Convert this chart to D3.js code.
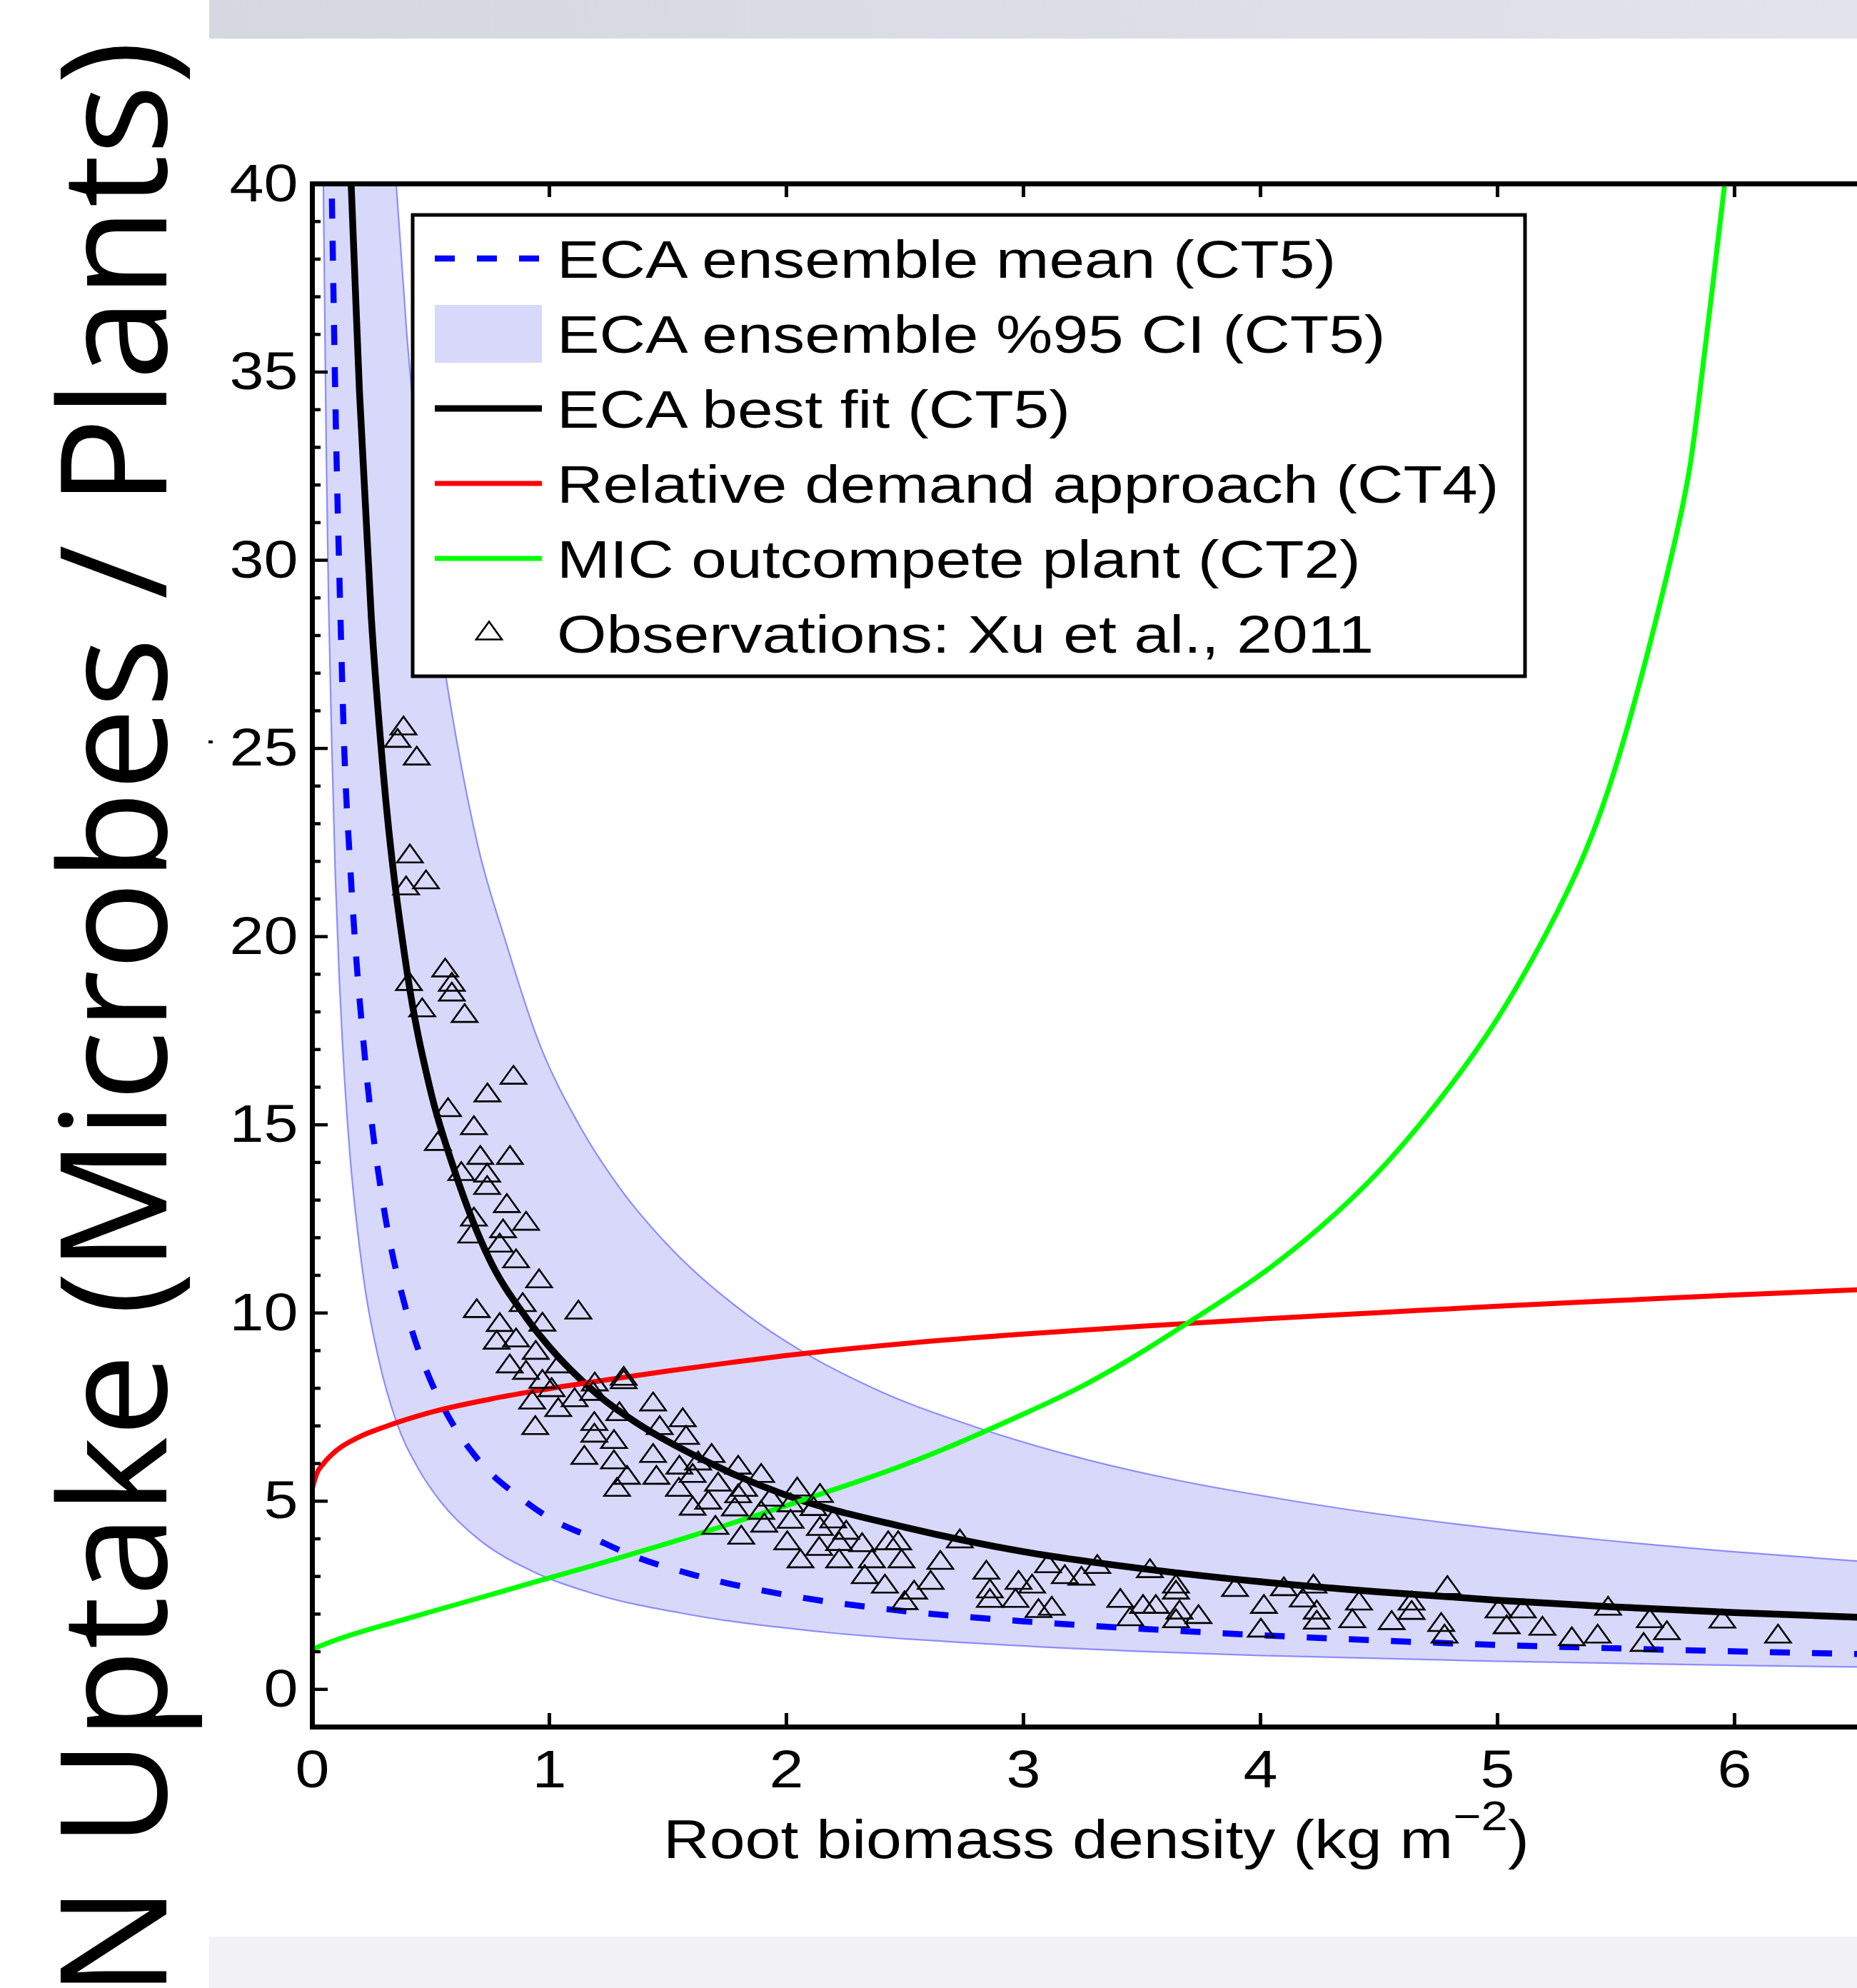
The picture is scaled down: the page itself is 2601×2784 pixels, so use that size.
<!DOCTYPE html>
<html>
<head>
<meta charset="utf-8">
<script src="https://cdn.jsdelivr.net/npm/d3@7"></script>
<style>
body { margin: 0; background: #fff; }
svg { display: block; }
</style>
</head>
<body>
<script>
// values
const xTicks = [0, 1, 2, 3, 4, 5, 6]
const yTicks = [0, 5, 10, 15, 20, 25, 30, 35, 40]

const meanX = [0.084, 0.1, 0.12, 0.136, 0.16, 0.18, 0.22, 0.253, 0.3, 0.4, 0.5, 0.553, 0.7, 0.886, 1.0, 1.19, 1.35, 1.6, 2.0, 2.5, 3.0, 3.5, 4.0, 4.5, 5.0, 5.5, 6.0, 6.6]
const meanY = [39.6, 33.8, 28.5, 25.0, 22.0, 20.0, 17.0, 15.0, 12.9, 10.0, 8.2, 7.5, 6.1, 5.05, 4.55, 4.0, 3.55, 3.05, 2.5, 2.07, 1.8, 1.6, 1.43, 1.29, 1.17, 1.08, 1.0, 0.92]

const ciLowX = [0.048, 0.06, 0.07, 0.084, 0.098, 0.115, 0.13, 0.16, 0.19, 0.225, 0.28, 0.356, 0.45, 0.54, 0.68, 0.95, 1.19, 1.6, 2.18, 2.9, 3.5, 4.0, 5.0, 6.0, 6.6]
const ciLowY = [40, 33.0, 28.9, 25.0, 21.7, 18.9, 17.0, 14.2, 12.3, 10.6, 8.8, 7.1, 5.84, 5.0, 4.1, 3.07, 2.53, 1.97, 1.5, 1.18, 1.0, 0.89, 0.74, 0.63, 0.58]
const ciUpX = [0.355, 0.4, 0.45, 0.5, 0.57, 0.616, 0.7, 0.82, 0.95, 1.135, 1.3, 1.5, 1.83, 2.06, 2.4, 2.8, 3.24, 3.64, 4.05, 4.41, 4.83, 5.41, 5.99, 6.6]
const ciUpY = [40, 36.0, 32.6, 29.8, 26.7, 25.0, 22.4, 19.8, 17.3, 14.9, 13.3, 11.8, 9.97, 9.0, 7.9, 6.96, 6.14, 5.56, 5.09, 4.73, 4.38, 3.98, 3.65, 3.36]

const fitX = [0.16, 0.2, 0.25, 0.3, 0.4, 0.5, 0.6, 0.75, 0.9, 1.0, 1.2, 1.4, 1.6, 1.8, 2.0, 2.5, 3.0, 3.5, 4.0, 4.5, 5.0, 5.5, 6.0, 6.6]
const fitY = [40.8, 34.5, 28.5, 24.4, 19.1, 15.9, 13.8, 11.4, 9.9, 9.1, 7.85, 6.95, 6.25, 5.65, 5.15, 4.3, 3.65, 3.2, 2.85, 2.58, 2.36, 2.18, 2.03, 1.89]

const demandX = [0, 0.02, 0.05, 0.1, 0.2, 0.3, 0.5, 0.75, 1.0, 1.25, 1.5, 1.75, 2.0, 2.5, 3.0, 3.5, 4.0, 4.5, 5.0, 5.5, 6.0, 6.6]
const demandY = [5.3, 5.72, 6.0, 6.32, 6.7, 6.95, 7.35, 7.7, 7.98, 8.22, 8.45, 8.66, 8.86, 9.18, 9.43, 9.64, 9.83, 10.0, 10.17, 10.32, 10.47, 10.63]

const micX = [0, 0.1, 0.25, 0.5, 0.75, 1.0, 1.25, 1.5, 1.75, 2.0, 2.25, 2.5, 2.75, 3.0, 3.25, 3.5, 3.75, 4.0, 4.25, 4.5, 4.75, 5.0, 5.25, 5.5, 5.75, 5.85, 5.96, 6.02]
const micY = [1.05, 1.3, 1.6, 2.05, 2.5, 2.95, 3.4, 3.87, 4.36, 4.87, 5.4, 5.96, 6.6, 7.3, 8.05, 8.95, 9.95, 11.0, 12.25, 13.75, 15.6, 17.8, 20.6, 24.5, 30.5, 34.2, 40.0, 43.5]

const obsX = [0.386, 0.361, 0.442, 0.413, 0.397, 0.481, 0.562, 0.409, 0.590, 0.590, 0.465, 0.644, 0.850, 0.740, 0.574, 0.683, 0.531, 0.710, 0.835, 0.630, 0.739, 0.739, 0.822,
  0.683, 0.903, 0.806, 0.672, 0.792, 0.861, 0.958, 0.695, 0.889, 1.124, 0.792, 0.972, 0.779, 0.861, 0.944, 0.834, 1.041, 0.903, 0.972, 1.011, 1.193, 1.315, 1.315, 1.186, 1.108, 0.929,
  1.039, 1.439, 1.297, 1.564, 0.942, 1.191, 1.467, 1.191, 1.578, 1.274, 1.149, 1.439, 1.686, 1.274, 1.550, 1.629, 1.798, 1.329, 1.453, 1.606, 1.895, 1.713, 2.047, 1.287, 1.548, 1.823,
  1.798, 2.143, 1.936, 1.672, 2.019, 1.784, 2.116, 1.606, 1.895, 2.199, 2.019, 1.702, 1.908, 2.143, 2.254, 1.811, 2.005, 2.224, 2.321, 2.431, 2.473, 2.140, 2.061, 2.224, 2.362, 2.487,
  2.733, 2.651, 2.332, 2.417, 2.610, 2.540, 2.500, 2.845, 2.860, 2.860, 2.981, 3.038, 2.968, 3.065, 3.121, 3.105, 3.176, 3.246, 3.313, 3.410, 3.452, 3.506, 3.560, 3.535, 3.645, 3.645,
  3.660, 3.645, 3.740, 3.894, 4.016, 4.003, 4.100, 4.180, 4.225, 4.239, 4.239, 4.389,
  4.417, 4.555, 4.639, 4.639, 4.790, 4.764, 4.778, 5.006, 5.108, 5.040, 5.191, 5.315, 5.424, 5.468, 5.644, 5.716, 5.618, 5.950, 6.185]
const obsY = [25.6, 25.27, 24.8, 22.2, 21.35, 21.51, 19.17, 18.81, 18.79, 18.53, 18.11, 17.96, 16.32, 15.85, 15.46, 14.98, 14.56, 14.19, 14.19, 13.76, 13.72, 13.39, 12.91,
  12.55, 12.44, 12.24, 12.10, 11.86, 11.44, 10.91, 10.12, 10.28, 10.08, 9.75, 9.76, 9.28, 9.34, 9.01, 8.65, 8.65, 8.48, 8.24, 8.02, 8.17, 8.32, 8.23, 7.92, 7.75, 7.69,
  7.49, 7.64, 7.38, 7.22, 7.01, 7.12, 7.01, 6.81, 6.75, 6.64, 6.22, 6.27, 6.27, 6.10, 5.96, 6.07, 5.96, 5.69, 5.69, 5.74, 5.74, 5.51, 5.38, 5.37, 5.37, 5.37,
  5.20, 5.21, 5.11, 5.03, 4.96, 4.85, 4.86, 4.87, 4.76, 4.53, 4.52, 4.36, 4.42, 4.33, 4.23, 4.10, 3.95, 3.93, 3.90, 3.95, 3.95, 3.80, 3.47, 3.47, 3.47, 3.47,
  4.00, 3.43, 3.05, 2.80, 2.90, 2.64, 2.36, 3.17, 2.67, 2.42, 2.90, 2.80, 2.42, 2.15, 2.21, 3.34, 3.05, 3.01, 3.32, 2.42, 1.93, 2.26, 2.26, 3.21, 2.80, 2.64,
  2.11, 1.88, 1.99, 2.71, 2.26, 1.63, 2.73, 2.43, 2.80, 2.11, 1.84, 1.88,
  2.35, 1.83, 2.35, 2.10, 2.76, 1.78, 1.47, 2.14, 2.14, 1.72, 1.68, 1.40, 1.47, 2.21, 1.88, 1.56, 1.25, 1.87, 1.47]

const legendLabels = ['ECA ensemble mean (CT5)', 'ECA ensemble %95 CI (CT5)', 'ECA best fit (CT5)',
  'Relative demand approach (CT4)', 'MIC outcompete plant (CT2)', 'Observations: Xu et al., 2011']

const width = 2601
const height = 2784
const helv = 'Liberation Sans, Arial, Helvetica, sans-serif'
const bandFill = '#d8d8fa'
const bandEdge = '#8c8cff'

const x = d3.scaleLinear().domain([0, 7]).range([437, 2761])
const y = d3.scaleLinear().domain([-1, 40]).range([2418, 257])

const svg = d3.select('body').append('svg').attr('width', width).attr('height', height)

svg.append('defs').append('clipPath').attr('id', 'plotClip')
  .append('rect').attr('x', 437).attr('y', 257).attr('width', 2761 - 437).attr('height', 2418 - 257)

const grad = svg.select('defs').append('linearGradient').attr('id', 'topBar')
grad.append('stop').attr('offset', '0%').attr('stop-color', '#d5d7e1')
grad.append('stop').attr('offset', '100%').attr('stop-color', '#e2e3eb')

// decoration bars of the slide
svg.append('rect').attr('x', 293).attr('y', 0).attr('width', width - 293).attr('height', 54).attr('fill', 'url(#topBar)')
svg.append('rect').attr('x', 293).attr('y', 2712).attr('width', width - 293).attr('height', height - 2712).attr('fill', '#f2f2f5')
svg.append('rect').attr('x', 292).attr('y', 1037).attr('width', 6).attr('height', 4).attr('fill', '#000')

const toPts = (xs, ys) => xs.map((d, i) => [d, ys[i]])
const line = d3.line().x(d => x(d[0])).y(d => y(d[1])).curve(d3.curveMonotoneX)
const smooth = d3.line().x(d => x(d[0])).y(d => y(d[1])).curve(d3.curveNatural)

const plot = svg.append('g').attr('clip-path', 'url(#plotClip)')

// confidence band
const lowPts = toPts(ciLowX, ciLowY)
const upPts = toPts(ciUpX, ciUpY)
plot.append('path')
  .attr('d', line(lowPts) + 'L' + line(upPts.slice().reverse()).slice(1) + 'Z')
  .attr('fill', bandFill).attr('stroke', 'none')
plot.append('path').attr('d', line(lowPts)).attr('fill', 'none').attr('stroke', bandEdge).attr('stroke-width', 2.2)
plot.append('path').attr('d', line(upPts)).attr('fill', 'none').attr('stroke', bandEdge).attr('stroke-width', 2.2)

plot.append('path').attr('d', line(toPts(meanX, meanY))).attr('fill', 'none')
  .attr('stroke', '#0000ff').attr('stroke-width', 8.5).attr('stroke-dasharray', '28,31')
plot.append('path').attr('d', line(toPts(fitX, fitY))).attr('fill', 'none')
  .attr('stroke', '#000').attr('stroke-width', 9.5)
plot.append('path').attr('d', line(toPts(demandX, demandY))).attr('fill', 'none')
  .attr('stroke', '#ff0000').attr('stroke-width', 7)
plot.append('path').attr('d', smooth(toPts(micX, micY))).attr('fill', 'none')
  .attr('stroke', '#00ff00').attr('stroke-width', 7)

const tri = (cx, cy) => `M${cx},${cy - 12.5}L${cx + 18},${cy + 12.5}L${cx - 18},${cy + 12.5}Z`
plot.selectAll('.obs').data(toPts(obsX, obsY)).enter().append('path').attr('class', 'obs')
  .attr('d', d => tri(x(d[0]), y(d[1])))
  .attr('fill', 'none').attr('stroke', '#000').attr('stroke-width', 2.6)

// axes
const styleAxis = (g, tickW) => {
  g.attr('font-family', helv).attr('font-size', 75)
  g.select('.domain').attr('stroke-width', 7).attr('stroke-linecap', 'square')
  g.selectAll('.tick line').attr('stroke-width', tickW)
  g.selectAll('.tick text').attr('fill', '#000').attr('transform', 'scale(1.15,1)')
}

svg.append('g').attr('transform', 'translate(0,2418)')
  .call(d3.axisBottom(x).tickValues(xTicks).tickSizeInner(-19).tickSizeOuter(0).tickPadding(32).tickFormat(d3.format('d')))
  .call(g => styleAxis(g, 5))
svg.append('g').attr('transform', 'translate(0,257)')
  .call(d3.axisTop(x).tickValues(xTicks).tickSizeInner(-19).tickSizeOuter(0).tickFormat(''))
  .call(g => styleAxis(g, 5))
const minorY = d3.range(0, 41).filter(v => v % 5 !== 0)
svg.append('g').attr('transform', 'translate(437,0)')
  .call(d3.axisLeft(y).tickValues(minorY).tickSizeInner(-12).tickSizeOuter(0).tickFormat(''))
  .call(g => styleAxis(g, 4.5))
svg.append('g').attr('transform', 'translate(437,0)')
  .call(d3.axisLeft(y).tickValues(yTicks).tickSizeInner(-22).tickSizeOuter(0).tickPadding(17).tickFormat(d3.format('d')))
  .call(g => styleAxis(g, 4.5))

// x label
const xl = svg.append('text').attr('transform', 'translate(929,2602) scale(1.18,1)')
  .attr('font-family', helv).attr('font-size', 76).attr('fill', '#000')
xl.append('tspan').text('Root biomass density (kg m')
xl.append('tspan').attr('font-size', 57).attr('dy', -39).text('\u22122')
xl.append('tspan').attr('dy', 39).text(')')

// big y label
svg.append('text').attr('transform', 'translate(233,57) rotate(-90)')
  .attr('font-family', 'Open Sans, Noto Sans, sans-serif').attr('font-size', 207)
  .attr('text-anchor', 'end').attr('fill', '#000')
  .text('N Uptake (Microbes / Plants)')

// legend
const lg = svg.append('g')
lg.append('rect').attr('x', 578).attr('y', 301).attr('width', 1558).attr('height', 646)
  .attr('fill', '#fff').attr('stroke', '#000').attr('stroke-width', 5)
const rowY = i => 389 + 105 * i
const sample = [
  g => g.append('line').attr('x1', 609).attr('x2', 759).attr('y1', -27).attr('y2', -27)
    .attr('stroke', '#0000ff').attr('stroke-width', 8.5).attr('stroke-dasharray', '28,31'),
  g => g.append('rect').attr('x', 609).attr('y', -67).attr('width', 150).attr('height', 81).attr('fill', bandFill),
  g => g.append('line').attr('x1', 609).attr('x2', 759).attr('y1', -27).attr('y2', -27)
    .attr('stroke', '#000').attr('stroke-width', 9),
  g => g.append('line').attr('x1', 609).attr('x2', 759).attr('y1', -27).attr('y2', -27)
    .attr('stroke', '#ff0000').attr('stroke-width', 7),
  g => g.append('line').attr('x1', 609).attr('x2', 759).attr('y1', -27).attr('y2', -27)
    .attr('stroke', '#00ff00').attr('stroke-width', 7),
  g => g.append('path').attr('d', tri(685, -31)).attr('fill', 'none').attr('stroke', '#000').attr('stroke-width', 2.6)
]
legendLabels.forEach((lab, i) => {
  const row = lg.append('g').attr('transform', `translate(0,${rowY(i)})`)
  sample[i](row)
  row.append('text').attr('transform', 'translate(780,0) scale(1.19,1)')
    .attr('font-family', helv).attr('font-size', 75).attr('fill', '#000').text(lab)
})
</script>
</body>
</html>
